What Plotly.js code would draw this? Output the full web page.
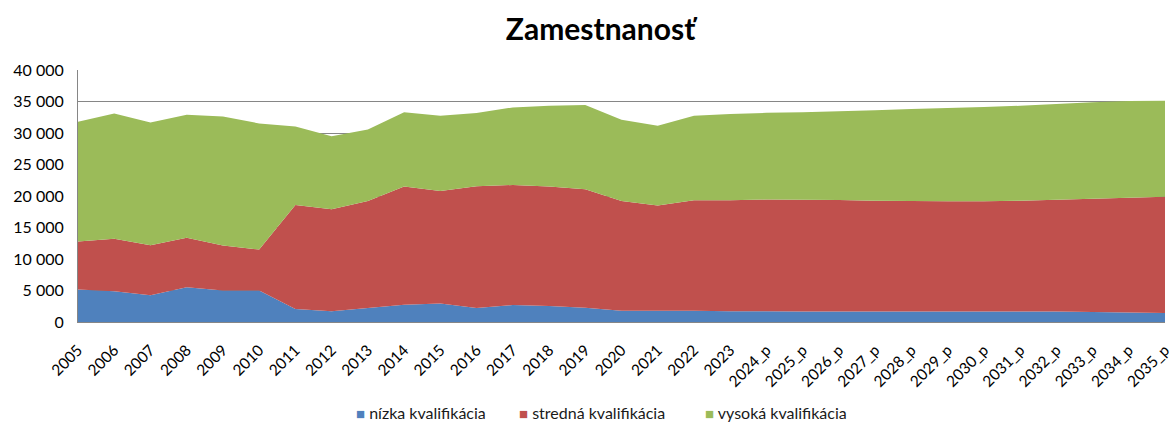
<!DOCTYPE html>
<html><head><meta charset="utf-8">
<script src="https://cdn.plot.ly/plotly-3.0.1.min.js"></script>
<style>html,body{margin:0;padding:0;background:#fff;}#chart{width:1173px;height:425px;}</style>
</head><body><div id="chart"></div>
<script>
const categories = ["2005","2006","2007","2008","2009","2010","2011","2012","2013","2014","2015","2016","2017","2018","2019","2020","2021","2022","2023","2024_p","2025_p","2026_p","2027_p","2028_p","2029_p","2030_p","2031_p","2032_p","2033_p","2034_p","2035_p"];
const nizka = [5150,4880,4240,5520,4990,4990,2070,1700,2230,2730,2920,2230,2700,2550,2280,1800,1800,1800,1700,1700,1680,1680,1670,1670,1660,1660,1650,1650,1600,1490,1430];
const stredna = [7640,8330,7960,7850,7160,6520,16500,16180,16970,18780,17880,19310,19050,18940,18780,17400,16710,17510,17610,17740,17740,17680,17590,17530,17490,17490,17610,17770,17980,18240,18460];
const vysoka = [18990,19890,19470,19520,20480,20000,12460,11620,11360,11800,11930,11620,12310,12830,13370,12900,12630,13420,13690,13760,13880,14110,14370,14590,14800,14960,15060,15170,15320,15330,15230];
const seriesNames = ["nízka kvalifikácia","stredná kvalifikácia","vysoká kvalifikácia"];
const colors = ["#4F81BD","#C0504D","#9BBB59"];
const yTicks = [0,5000,10000,15000,20000,25000,30000,35000,40000];

const areas = [nizka, stredna, vysoka].map((v,i)=>({
  x: categories, y: v, type:'scatter', mode:'none', stackgroup:'one',
  name: seriesNames[i], fillcolor: colors[i], line:{width:0}, showlegend:false
}));

// legend drawn as text annotations with square keys, laid out like the original
const legendX = [0.254, 0.404, 0.575];
const legendAnn = seriesNames.map((n,i)=>({
  xref:'paper', yref:'paper', x:legendX[i], y:-0.358, xanchor:'left', yanchor:'middle',
  text:'<span style="color:'+colors[i]+';font-size:15px">■</span> '+n,
  showarrow:false, font:{size:16, color:'#1a1a1a', family:'Lato, "Open Sans", sans-serif'}
}));

const layout = {
  width:1173, height:425,
  margin:{l:78, r:8, t:70, b:103},
  paper_bgcolor:'#fff', plot_bgcolor:'#fff',
  separators:', ',
  font:{family:'Lato, "Open Sans", sans-serif', size:14, color:'#000'},
  title:{text:'<b>Zamestnanosť</b>', x:0.512, xanchor:'center', y:0.93, yanchor:'middle', font:{size:30, color:'#000', family:'Lato, "Open Sans", sans-serif'}},
  xaxis:{type:'category', range:[0,30], tickangle:-45, automargin:false, showgrid:false, showline:true, linecolor:'#868686', linewidth:1, ticks:'', ticklabelstandoff:12, tickfont:{size:15.5}, fixedrange:true},
  yaxis:{range:[0,40000], automargin:false, tickvals:yTicks, tickformat:',d', showgrid:true, gridcolor:'#868686', gridwidth:1, showline:true, linecolor:'#868686', linewidth:1, ticks:'', ticklabelstandoff:10, zeroline:false, tickfont:{size:16}, fixedrange:true},
  annotations: legendAnn,
  showlegend:false
};
Plotly.newPlot('chart', areas, layout, {displayModeBar:false, staticPlot:true});
</script></body></html>
